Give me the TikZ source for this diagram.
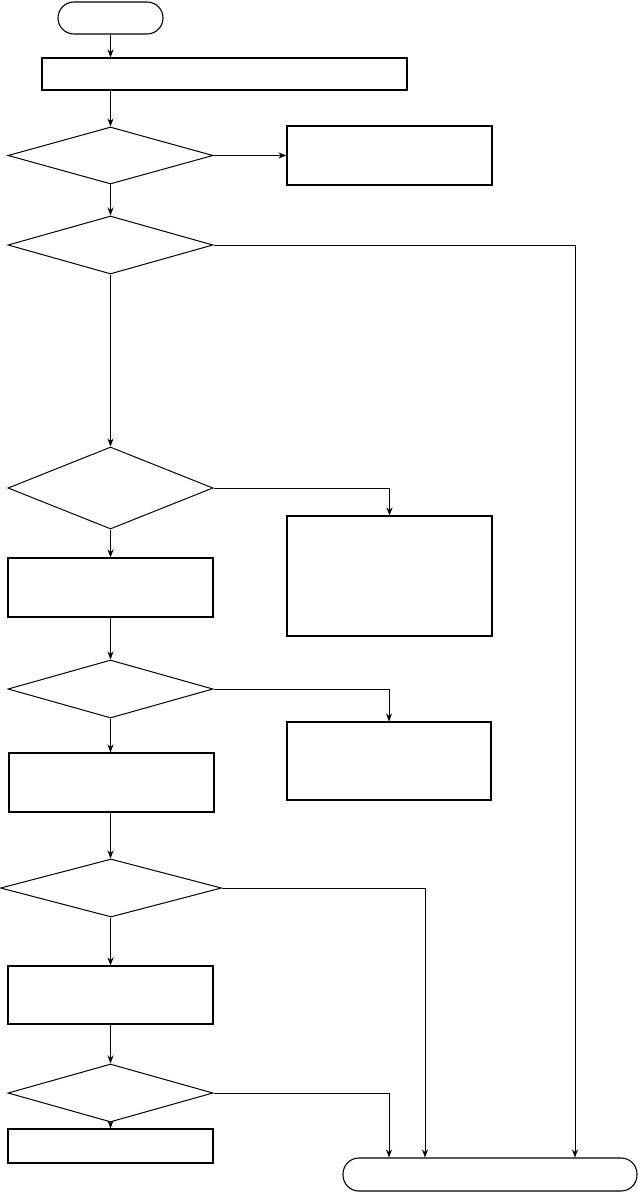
\documentclass[tikz,border=0pt]{standalone}
\usetikzlibrary{shapes.geometric,arrows.meta}
\tikzset{
  box/.style={draw, line width=1.1pt, rectangle, inner sep=0pt},
  term/.style={draw, line width=1.1pt, rectangle, rounded corners=16pt, inner sep=0pt},
  dec/.style={draw, line width=1pt, diamond, inner sep=0pt},
  arr/.style={line width=1pt, -{Stealth[length=8pt,width=6pt,inset=2.5pt]}},
  ln/.style={line width=1pt}
}
\begin{document}
\begin{tikzpicture}[x=1pt,y=-1pt]
\useasboundingbox (0,0) rectangle (637,1193);
\node[term, minimum width=105pt, minimum height=32pt] (st) at (110.5,18) {};
\node[box, minimum width=365pt, minimum height=32pt] (r1) at (224.5,74) {};
\node[dec, minimum width=205pt, minimum height=57pt] (d1) at (110.5,155.5) {};
\node[box, minimum width=205pt, minimum height=59pt] (b1) at (389.5,155.5) {};
\node[dec, minimum width=205pt, minimum height=58pt] (d2) at (110.5,245) {};
\node[dec, minimum width=205pt, minimum height=82pt] (d3) at (110.5,488) {};
\node[box, minimum width=205pt, minimum height=120pt] (b2) at (389.5,576) {};
\node[box, minimum width=205pt, minimum height=59pt] (l1) at (110.5,587.5) {};
\node[dec, minimum width=205pt, minimum height=58pt] (d4) at (110.5,689) {};
\node[box, minimum width=204pt, minimum height=78pt] (b3) at (389,761) {};
\node[box, minimum width=205pt, minimum height=59pt] (l2) at (111.5,782.5) {};
\node[dec, minimum width=221pt, minimum height=58pt] (d5) at (111,888) {};
\node[box, minimum width=205pt, minimum height=58pt] (l3) at (110.5,995) {};
\node[dec, minimum width=205pt, minimum height=58pt] (d6) at (110.5,1093) {};
\node[box, minimum width=205pt, minimum height=34pt] (l4) at (110.5,1146) {};
\node[term, minimum width=294pt, minimum height=33pt] (en) at (490,1174.5) {};
\coordinate (xa) at (575,0);
\coordinate (xb) at (425,0);
\coordinate (xc) at (389,0);
% main spine
\draw[arr] (st.south) -- (st.south |- r1.north);
\draw[arr] (st.south |- r1.south) -- (d1.north);
\draw[arr] (d1.south) -- (d2.north);
\draw[arr] (d2.south) -- (d3.north);
\draw[arr] (d3.south) -- (l1.north);
\draw[arr] (l1.south) -- (d4.north);
\draw[arr] (d4.south) -- (d4.south |- l2.north);
\draw[arr] (d4.south |- l2.south) -- (d4.south |- d5.north);
\draw[arr] (d4.south |- d5.south) -- (l3.north);
\draw[arr] (l3.south) -- (d6.north);
\draw[arr] (d6.south) -- (l4.north);
% side branches
\draw[arr] (d1.east) -- (b1.west);
\draw[arr] (d2.east) -| (xa |- en.north);
\draw[arr] (d3.east) -| (b2.north);
\draw[arr] (d4.east) -| (b3.north);
\draw[arr] (d5.east) -| (xb |- en.north);
\draw[arr] (d6.east) -| (xc |- en.north);
\end{tikzpicture}
\end{document}
